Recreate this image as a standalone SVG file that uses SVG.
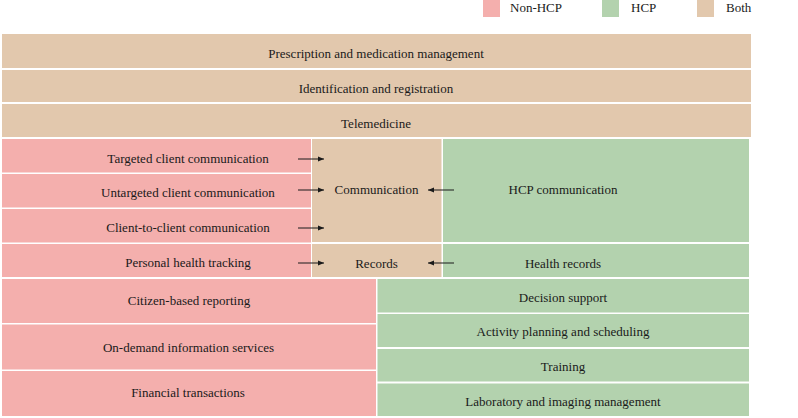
<svg xmlns="http://www.w3.org/2000/svg" width="798" height="418" viewBox="0 0 798 418">
<defs>
<style>
.n{fill:#F4AFAD}
.h{fill:#B3D2AE}
.b{fill:#E2C8AD}
text{font-family:"Liberation Serif","Times New Roman",serif;font-size:13px;fill:#1a1a1a;text-anchor:middle}
.lg{text-anchor:start}
.ar{stroke:#1a1a1a;stroke-width:1;fill:none;marker-end:url(#ah)}
</style>
<marker id="ah" viewBox="0 0 10 10" refX="10" refY="5" markerWidth="6" markerHeight="6" markerUnits="userSpaceOnUse" orient="auto">
<path d="M0,1 L10,5 L0,9 Z" fill="#1a1a1a"/>
</marker>
</defs>
<rect width="798" height="418" fill="#fff"/>
<g id="legend">
<rect class="n" x="483" y="0" width="17" height="17"/>
<text class="lg" x="510" y="12">Non-HCP</text>
<rect class="h" x="602" y="0" width="17" height="17"/>
<text class="lg" x="631" y="12">HCP</text>
<rect class="b" x="697" y="0" width="17" height="17"/>
<text class="lg" x="726" y="12">Both</text>
</g>
<g id="prescription"><rect class="b" x="2" y="34" width="749" height="34"/><text x="376" y="58">Prescription and medication management</text></g>
<g id="identification"><rect class="b" x="2" y="70" width="749" height="32"/><text x="376" y="93">Identification and registration</text></g>
<g id="telemedicine"><rect class="b" x="2" y="104" width="749" height="33"/><text x="376" y="127.5">Telemedicine</text></g>
<g id="targeted"><rect class="n" x="2" y="139" width="309" height="33.5"/><text x="188" y="162.5">Targeted client communication</text></g>
<g id="untargeted"><rect class="n" x="2" y="174" width="309" height="33.5"/><text x="188" y="197">Untargeted client communication</text></g>
<g id="client2client"><rect class="n" x="2" y="209" width="309" height="33.5"/><text x="188" y="232">Client-to-client communication</text></g>
<g id="personal"><rect class="n" x="2" y="244" width="309" height="33"/><text x="188" y="267">Personal health tracking</text></g>
<g id="communication"><rect class="b" x="312" y="139" width="129.5" height="103"/><text x="376.5" y="194">Communication</text></g>
<g id="records"><rect class="b" x="312" y="244" width="129.5" height="33"/><text x="376.5" y="267.5">Records</text></g>
<g id="hcpcomm"><rect class="h" x="443" y="139" width="306" height="103"/><text x="563" y="194">HCP communication</text></g>
<g id="healthrecords"><rect class="h" x="443" y="244" width="306" height="33"/><text x="563" y="267.5">Health records</text></g>
<g id="citizen"><rect class="n" x="2" y="279" width="374" height="44"/><text x="189" y="304.5">Citizen-based reporting</text></g>
<g id="ondemand"><rect class="n" x="2" y="324.5" width="374" height="45"/><text x="188.5" y="351.5">On-demand information services</text></g>
<g id="financial"><rect class="n" x="2" y="371" width="374" height="45"/><text x="188" y="397">Financial transactions</text></g>
<g id="decision"><rect class="h" x="377.5" y="279" width="371.5" height="33.5"/><text x="563" y="302">Decision support</text></g>
<g id="activity"><rect class="h" x="377.5" y="314" width="371.5" height="33"/><text x="563" y="336">Activity planning and scheduling</text></g>
<g id="training"><rect class="h" x="377.5" y="349" width="371.5" height="32.5"/><text x="563" y="370.5">Training</text></g>
<g id="laboratory"><rect class="h" x="377.5" y="383.5" width="371.5" height="32.5"/><text x="563" y="405.5">Laboratory and imaging management</text></g>
<g id="connectors">
<line class="ar" x1="298" y1="159" x2="324" y2="159"/>
<line class="ar" x1="298" y1="190" x2="324" y2="190"/>
<line class="ar" x1="298" y1="228" x2="324" y2="228"/>
<line class="ar" x1="298" y1="263" x2="324" y2="263"/>
<line class="ar" x1="454" y1="190" x2="428" y2="190"/>
<line class="ar" x1="454" y1="263" x2="428" y2="263"/>
</g>
</svg>
